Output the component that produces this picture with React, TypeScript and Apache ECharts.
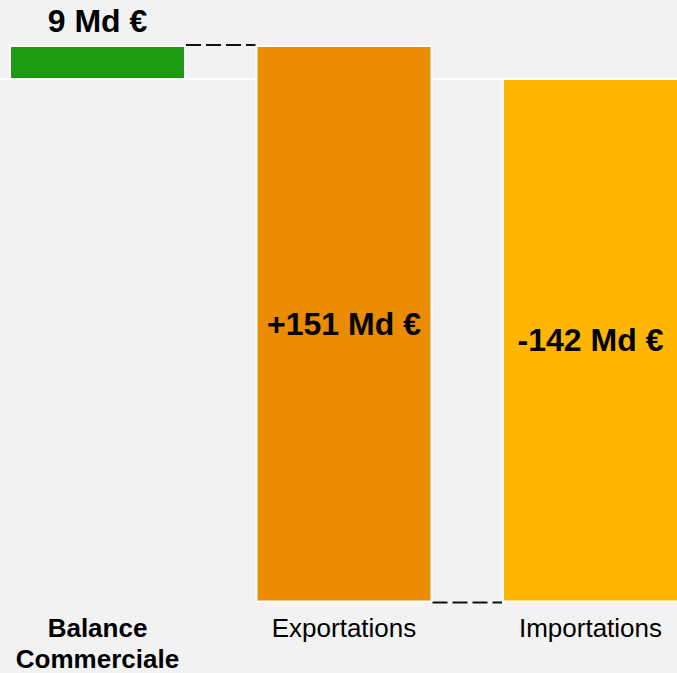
import React, { useEffect, useRef } from "react";
import * as echarts from "echarts";

const CATEGORIES = ["Balance\nCommerciale", "Exportations", "Importations"];
const STEPS = [9, -151, 142];
const VALUE_LABELS = ["9 Md €", "+151 Md €", "-142 Md €"];
const COLORS = ["#1E9A12", "#EB8C00", "#FFB600"];

const FONT = "'Liberation Sans', Arial, Helvetica, sans-serif";
const BAR_RATIO = 0.71;

export default function App() {
  const ref = useRef<HTMLDivElement>(null);

  useEffect(() => {
    if (!ref.current) return;
    const chart = echarts.init(ref.current, undefined, { renderer: "svg" });

    let running = 0;
    const bars = STEPS.map((s, i) => {
      const start = running;
      running += s;
      return [i, Math.min(start, running), Math.max(start, running), start];
    });
    const yMin = Math.min(...bars.map((b) => b[1]));
    const yMax = Math.max(...bars.map((b) => b[2]));

    const renderItem = (params: any, api: any) => {
      const idx = api.value(0);
      const low = api.value(1);
      const high = api.value(2);
      const conn = api.value(3);
      const band = api.size([1, 0])[0];
      const w = band * BAR_RATIO;
      const top = api.coord([idx, high]);
      const bot = api.coord([idx, low]);
      const cx = top[0];
      const children: any[] = [
        {
          type: "rect",
          shape: { x: cx - w / 2, y: top[1], width: w, height: bot[1] - top[1] },
          style: { fill: COLORS[idx], stroke: "#ffffff", lineWidth: 2 },
          textContent: {
            style: {
              text: VALUE_LABELS[idx],
              fill: "#000000",
              fontSize: 32,
              fontWeight: "bold",
              fontFamily: FONT,
            },
          },
          textConfig: { position: idx === 0 ? "top" : "inside", distance: 8 },
        },
      ];
      if (idx > 0) {
        const prev = api.coord([idx - 1, conn]);
        const off = conn === high ? -1 : 1;
        children.push({
          type: "line",
          shape: {
            x1: prev[0] + w / 2 + 1,
            y1: prev[1] + off,
            x2: cx - w / 2 - 1,
            y2: prev[1] + off,
          },
          style: { stroke: "#111111", lineWidth: 2, lineDash: [15, 5] },
        });
      }
      return { type: "group", children };
    };

    chart.setOption({
      animation: false,
      backgroundColor: "#F2F2F2",
      grid: {
        left: -25.75,
        right: -36.75,
        top: 46,
        bottom: 71.5,
        containLabel: false,
        outerBoundsMode: "none",
      },
      xAxis: [
        {
          type: "category",
          data: CATEGORIES.map((c, i) =>
            i === 0 ? { value: c, textStyle: { fontWeight: "bold" } } : c
          ),
          axisLine: { show: false },
          axisTick: { show: false },
          splitLine: { show: false },
          axisLabel: {
            interval: 0,
            color: "#000000",
            fontSize: 26,
            lineHeight: 31,
            margin: 11,
            fontFamily: FONT,
          },
        },
        {
          type: "value",
          min: 0,
          max: 1,
          show: false,
        },
      ],
      yAxis: {
        type: "value",
        min: yMin,
        max: yMax,
        show: false,
        splitLine: { show: false },
      },
      series: [
        {
          type: "line",
          xAxisIndex: 1,
          yAxisIndex: 0,
          data: [
            [0, 0],
            [1, 0],
          ],
          symbol: "none",
          silent: true,
          z: 1,
          lineStyle: { color: "#ffffff", width: 2 },
        },
        {
          type: "custom",
          xAxisIndex: 0,
          yAxisIndex: 0,
          z: 2,
          renderItem,
          dimensions: ["x", "low", "high", "conn"],
          encode: { x: 0, y: [1, 2] },
          data: bars,
        },
      ],
    });

    return () => chart.dispose();
  }, []);

  return (
    <div
      ref={ref}
      style={{ position: "fixed", left: 0, top: 0, width: 677, height: 673 }}
    />
  );
}
